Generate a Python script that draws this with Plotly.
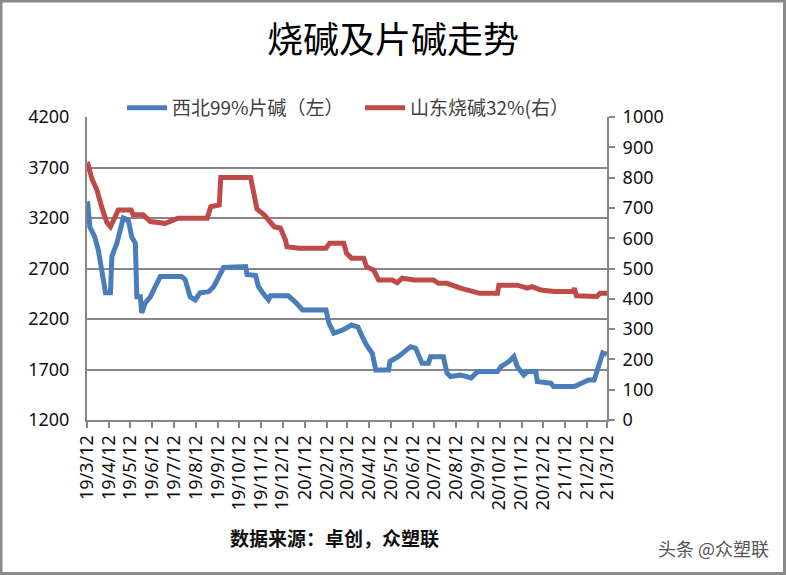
import plotly.graph_objects as go

# ---- data ----
nw_dates = ["2019-03-12", "2019-03-13", "2019-03-16", "2019-03-23", "2019-03-28", "2019-04-02", "2019-04-07",
            "2019-04-14", "2019-04-16", "2019-04-23", "2019-04-28", "2019-05-02", "2019-05-09", "2019-05-14",
            "2019-05-19", "2019-05-21", "2019-05-26", "2019-05-28", "2019-06-02", "2019-06-09", "2019-06-16",
            "2019-06-23", "2019-07-23", "2019-07-28", "2019-08-04", "2019-08-11", "2019-08-18", "2019-08-30",
            "2019-09-06", "2019-09-13", "2019-09-20", "2019-10-21", "2019-10-23", "2019-11-04", "2019-11-08",
            "2019-11-15", "2019-11-22", "2019-11-25", "2019-12-20", "2019-12-31", "2020-01-09", "2020-02-11",
            "2020-02-15", "2020-02-22", "2020-03-05", "2020-03-18", "2020-03-27", "2020-04-01", "2020-04-08",
            "2020-04-16", "2020-04-21", "2020-05-09", "2020-05-11", "2020-05-23", "2020-05-30", "2020-06-09",
            "2020-06-16", "2020-06-23", "2020-06-25", "2020-07-04", "2020-07-07", "2020-07-25", "2020-07-30",
            "2020-08-04", "2020-08-18", "2020-09-02", "2020-09-11", "2020-10-09", "2020-10-14", "2020-10-25",
            "2020-11-01", "2020-11-06", "2020-11-15", "2020-11-20", "2020-12-02", "2020-12-04", "2020-12-23",
            "2020-12-27", "2021-01-25", "2021-02-04", "2021-02-14", "2021-02-22", "2021-02-26", "2021-03-02",
            "2021-03-06", "2021-03-12"]
nw_values = [3360, 3350, 3110, 3010, 2880, 2670, 2460,
             2460, 2820, 2950, 3080, 3200, 3180, 3010,
             2950, 2420, 2420, 2260, 2360, 2420, 2520,
             2620, 2620, 2590, 2420, 2390, 2460, 2470,
             2520, 2620, 2710, 2720, 2640, 2630, 2520,
             2450, 2390, 2430, 2430, 2360, 2290, 2290,
             2160, 2060, 2090, 2140, 2120, 2040, 1940,
             1860, 1695, 1695, 1780, 1830, 1864, 1926,
             1910, 1790, 1762, 1762, 1827, 1827, 1666,
             1630, 1646, 1616, 1679, 1679, 1728, 1778,
             1827, 1728, 1646, 1679, 1679, 1580, 1564,
             1531, 1531, 1564, 1597, 1597, 1679, 1762,
             1864, 1850]

sd_dates = ["2019-03-12", "2019-03-13", "2019-03-19", "2019-03-26", "2019-04-02", "2019-04-09", "2019-04-14",
            "2019-04-21", "2019-04-25", "2019-05-13", "2019-05-16", "2019-05-30", "2019-06-09", "2019-06-30",
            "2019-07-18", "2019-08-28", "2019-09-02", "2019-09-14", "2019-09-16", "2019-10-28", "2019-11-01",
            "2019-11-06", "2019-11-16", "2019-11-23", "2019-11-30", "2019-12-09", "2019-12-16", "2019-12-18",
            "2020-01-04", "2020-02-11", "2020-02-16", "2020-03-07", "2020-03-11", "2020-03-18", "2020-04-04",
            "2020-04-08", "2020-04-18", "2020-04-25", "2020-05-14", "2020-05-21", "2020-05-28", "2020-06-14",
            "2020-07-11", "2020-07-18", "2020-07-30", "2020-08-18", "2020-09-06", "2020-09-14", "2020-10-09",
            "2020-10-11", "2020-11-06", "2020-11-20", "2020-11-27", "2020-12-09", "2020-12-28", "2021-01-23",
            "2021-01-25", "2021-01-28", "2021-02-26", "2021-03-02", "2021-03-12"]
sd_values = [850, 847, 795, 759, 700, 652, 638,
             680, 693, 693, 677, 677, 655, 649,
             666, 666, 704, 710, 800, 800, 759,
             696, 677, 655, 638, 633, 594, 572,
             567, 567, 583, 583, 550, 534, 534,
             506, 495, 462, 462, 453, 468, 462,
             462, 451, 451, 435, 424, 418, 418,
             445, 445, 435, 440, 429, 424, 424,
             435, 410, 408, 418, 418]

tick_dates = ["2019-03-12", "2019-04-12", "2019-05-12", "2019-06-12", "2019-07-12", "2019-08-12", "2019-09-12",
              "2019-10-12", "2019-11-12", "2019-12-12", "2020-01-12", "2020-02-12", "2020-03-12", "2020-04-12",
              "2020-05-12", "2020-06-12", "2020-07-12", "2020-08-12", "2020-09-12", "2020-10-12", "2020-11-12",
              "2020-12-12", "2021-01-12", "2021-02-12", "2021-03-12"]
tick_labels = ["19/3/12", "19/4/12", "19/5/12", "19/6/12", "19/7/12", "19/8/12", "19/9/12",
               "19/10/12", "19/11/12", "19/12/12", "20/1/12", "20/2/12", "20/3/12", "20/4/12",
               "20/5/12", "20/6/12", "20/7/12", "20/8/12", "20/9/12", "20/10/12", "20/11/12",
               "20/12/12", "21/1/12", "21/2/12", "21/3/12"]

series_names = ["西北99%片碱（左）", "山东烧碱32%(右）"]
title_text = "烧碱及片碱走势"
source_text = "数据来源：卓创，众塑联"
watermark_text = "头条 @众塑联"

BLUE = "#4a7ebb"
RED = "#be4b48"
GRID = "#878787"
FONT = "Noto Sans, Noto Sans CJK SC, sans-serif"
CJK = "Noto Sans CJK SC, sans-serif"

fig = go.Figure()
fig.add_trace(go.Scatter(x=nw_dates, y=nw_values, name=series_names[0], mode="lines",
                         line=dict(color=BLUE, width=5), yaxis="y"))
fig.add_trace(go.Scatter(x=sd_dates, y=sd_values, name=series_names[1], mode="lines",
                         line=dict(color=RED, width=5), yaxis="y2"))

W, H = 786, 575
L, R, T, B = 87, 179, 117, 155
pw, ph = W - L - R, H - T - B


def px(x):
    return (x - L) / pw


def py(y):
    return (H - B - y) / ph


TICKFONT = dict(family=FONT, size=18, color="#111111")

fig.update_layout(
    width=W, height=H,
    margin=dict(l=L, r=R, t=T, b=B, pad=0),
    paper_bgcolor="white", plot_bgcolor="white",
    font=dict(family=FONT, size=18, color="#111111"),
    title=dict(text=title_text, x=0.5, xref="container", xanchor="center",
               y=1 - 40 / H, yref="container", yanchor="middle",
               font=dict(family=CJK, size=36, color="#000000")),
    showlegend=True,
    legend=dict(orientation="h", x=px(122), y=py(108), xanchor="left", yanchor="middle",
                font=dict(family=CJK, size=19, color="#404040"), bgcolor="rgba(0,0,0,0)",
                itemwidth=40, traceorder="normal", entrywidth=183, entrywidthmode="pixels"),
    xaxis=dict(type="date", range=["2019-03-12", "2021-03-12"], tickmode="array",
               tickvals=tick_dates, ticktext=tick_labels, tickangle=-90,
               showgrid=False, showline=True, linecolor=GRID, linewidth=2,
               ticks="outside", ticklen=6, tickcolor=GRID, tickwidth=2,
               tickfont=TICKFONT, zeroline=False),
    yaxis=dict(range=[1200, 4200], dtick=500, tick0=1200, showgrid=True, gridcolor=GRID, gridwidth=2,
               showline=True, linecolor=GRID, linewidth=2, ticks="", zeroline=False,
               ticklabelstandoff=12, tickfont=TICKFONT),
    yaxis2=dict(range=[0, 1000], dtick=100, overlaying="y", side="right", showgrid=False,
                showline=True, linecolor=GRID, linewidth=2, ticks="outside", ticklen=6,
                tickcolor=GRID, tickwidth=2, zeroline=False, ticklabelstandoff=4,
                tickfont=TICKFONT),
    annotations=[
        dict(text="<b>" + source_text + "</b>", x=px(228), y=py(537), xref="paper", yref="paper",
             xanchor="left", yanchor="middle", showarrow=False,
             font=dict(family=CJK, size=19, color="#111111")),
        dict(text=watermark_text, x=px(771), y=py(548), xref="paper", yref="paper",
             xanchor="right", yanchor="middle", showarrow=False,
             font=dict(family=CJK, size=18, color="#555555")),
    ],
    shapes=[
        dict(type="rect", xref="paper", yref="paper", x0=px(1), x1=px(784.5), y0=py(573.5), y1=py(1),
             line=dict(color="#8a8a8a", width=3), fillcolor="rgba(0,0,0,0)", layer="above"),
    ],
)

fig.write_html("out.html")
